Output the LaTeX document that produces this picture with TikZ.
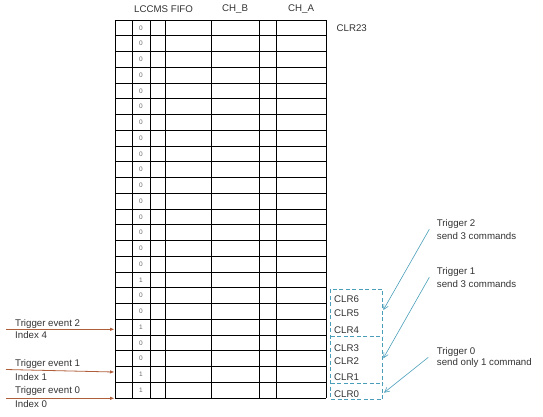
\documentclass[tikz,border=0pt]{standalone}
\usepackage{fontspec}
\setmainfont{Liberation Sans}
\usetikzlibrary{arrows.meta}
\definecolor{tblue}{RGB}{75,158,186}
\definecolor{tbrown}{RGB}{176,94,58}
\begin{document}
\begin{tikzpicture}[x=1pt,y=-1pt,
  lbl/.style={font=\fontsize{9.7}{11}\selectfont, inner sep=0, anchor=west, text=black!80},
  bit/.style={font=\fontsize{6.5}{7}\selectfont, text=black!60, inner sep=0},
  grid/.style={draw=black, line width=0.8pt},
  grp/.style={draw=tblue, line width=0.9pt, dash pattern=on 4pt off 2.5pt},
  callout/.style={draw=tblue, line width=0.6pt, -{Straight Barb[length=5pt,width=5pt]}},
  trig/.style={draw=tbrown, line width=0.8pt, -{Triangle[length=4pt,width=3pt]}}]
\useasboundingbox (0,0) rectangle (543,416);
% table grid
\foreach \i in {0,...,24} \draw[grid] (115,{20+\i*15.75}) -- (326,{20+\i*15.75});
\foreach \x in {115,132,150,165,211,259,276,326} \draw[grid] (\x,20) -- (\x,398);
% bits
\foreach \v [count=\i from 0] in {0,0,0,0,0,0,0,0,0,0,0,0,0,0,0,0,1,0,0,1,0,0,1,1}
  \node[bit] (b\i) at (141,{20+(\i+0.5)*15.75}) {\v};
% header
\node[lbl] (hfifo) at (134,9) {LCCMS FIFO};
\node[lbl] (hchb) at (222,9) {CH\_B};
\node[lbl] (hcha) at (288,9) {CH\_A};
% CLR labels
\node[lbl] (clr23) at (336.5,28) {CLR23};
\node[lbl] (clr6) at (334,299.3) {CLR6};
\node[lbl] (clr5) at (334,313.3) {CLR5};
\node[lbl] (clr4) at (334,330) {CLR4};
\node[lbl] (clr3) at (334,347.7) {CLR3};
\node[lbl] (clr2) at (334,361) {CLR2};
\node[lbl] (clr1) at (334,376.7) {CLR1};
\node[lbl] (clr0) at (334,394.3) {CLR0};
% dashed groups
\draw[grp] (330.7,289.3) rectangle (382.7,399.5);
\draw[grp] (330.7,336) -- (382.7,336);
\draw[grp] (330.7,383.5) -- (382.7,383.5);
\coordinate (g2) at (383.3,310);
\coordinate (g1) at (383.3,358.3);
\coordinate (g0) at (384,392.7);
% right notes
\node[lbl] (t2) at (436.7,224) {Trigger 2};
\node[lbl] (t2b) at (436.7,236) {send 3 commands};
\node[lbl] (t1) at (436.7,271.7) {Trigger 1};
\node[lbl] (t1b) at (436.7,284) {send 3 commands};
\node[lbl] (t0) at (436.7,351.7) {Trigger 0};
\node[lbl] (t0b) at (436.7,363.3) {send only 1 command};
\coordinate (s2) at (429.3,229.3);
\coordinate (s1) at (429.3,277.3);
\coordinate (s0) at (428.3,357.3);
\draw[callout] (s2) -- (g2);
\draw[callout] (s1) -- (g1);
\draw[callout] (s0) -- (g0);
% left triggers
\node[lbl] (e2) at (15,324) {Trigger event 2};
\node[lbl] (i2) at (15,335) {Index 4};
\node[lbl] (e1) at (15,364) {Trigger event 1};
\node[lbl] (i1) at (15,376.7) {Index 1};
\node[lbl] (e0) at (15,391) {Trigger event 0};
\node[lbl] (i0) at (15,404) {Index 0};
\coordinate (a2s) at (6,329.3); \coordinate (a2e) at (114,329.3);
\coordinate (a1s) at (6,369.5); \coordinate (a1e) at (114,372);
\coordinate (a0s) at (6,398.3); \coordinate (a0e) at (114,398.3);
\draw[trig] (a2s) -- (a2e);
\draw[trig] (a1s) -- (a1e);
\draw[trig] (a0s) -- (a0e);
\end{tikzpicture}
\end{document}
